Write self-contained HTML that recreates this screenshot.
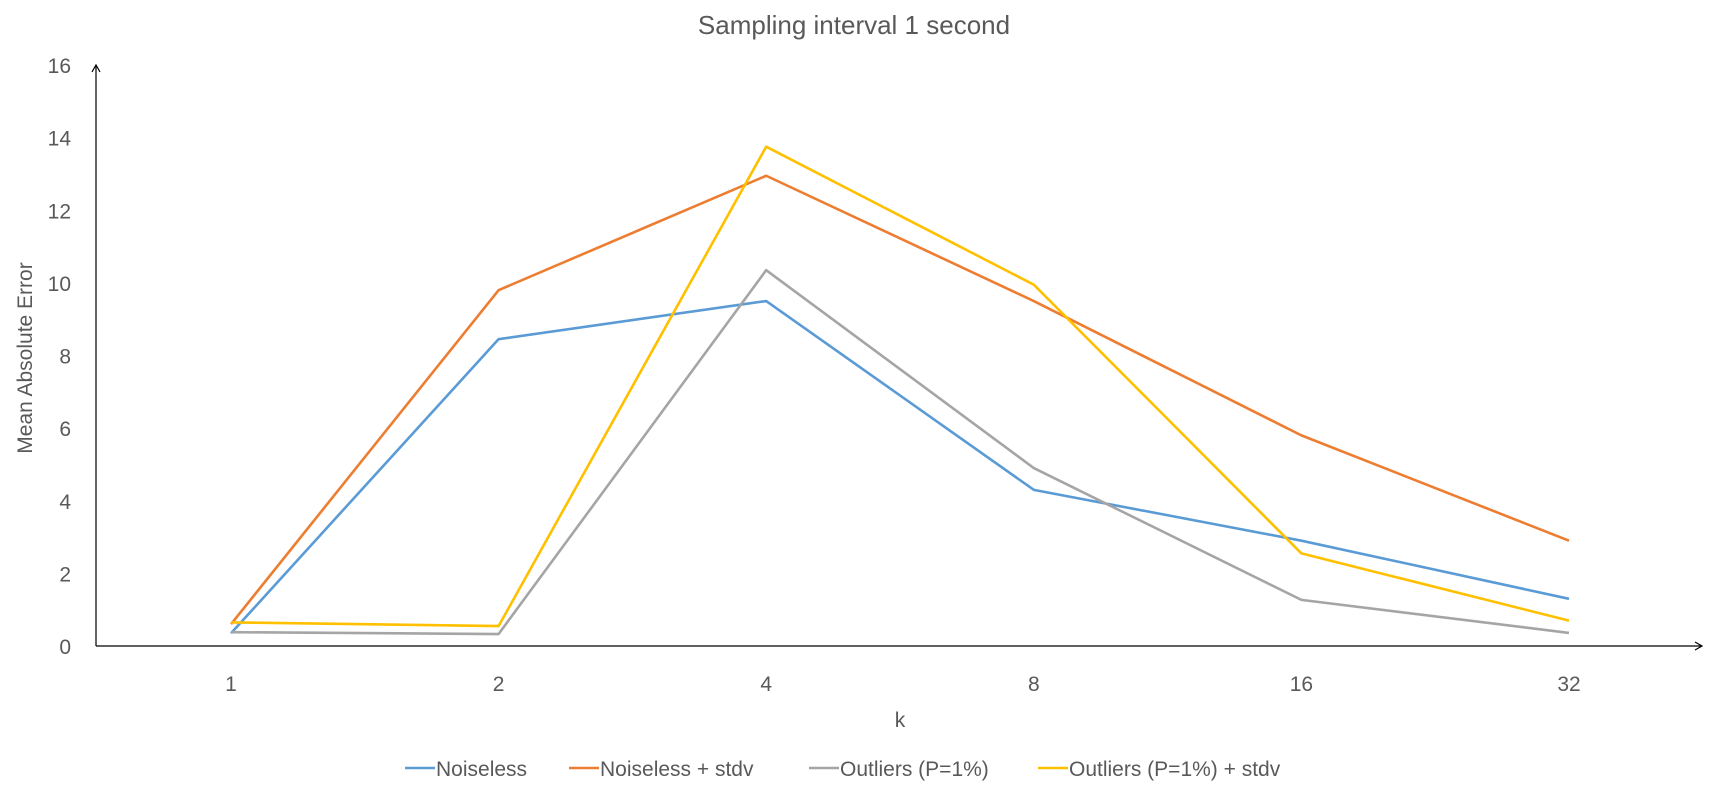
<!DOCTYPE html>
<html><head><meta charset="utf-8"><style>
body{margin:0;background:#fff;}
svg text{font-family:"Liberation Sans",sans-serif;fill:#595959;}
</style></head><body>
<svg id="chart" width="1709" height="786" viewBox="0 0 1709 786">
<text x="854" y="34" font-size="26" text-anchor="middle">Sampling interval 1 second</text>
<text transform="translate(32,358) rotate(-90)" font-size="21" text-anchor="middle">Mean Absolute Error</text>
<text x="900" y="727" font-size="21" text-anchor="middle">k</text>
<g id="axes"></g><g id="series"></g><g id="legend"></g>
</svg>
<script>
const categories=["1","2","4","8","16","32"];
const yTicks=[0,2,4,6,8,10,12,14,16];
const noiseless=[0.35,8.45,9.5,4.3,2.9,1.3];
const noiselessStdv=[0.6,9.8,12.95,9.5,5.8,2.9];
const outliers=[0.38,0.33,10.35,4.9,1.27,0.36];
const outliersStdv=[0.65,0.55,13.75,9.95,2.55,0.7];
const seriesNames=["Noiseless","Noiseless + stdv","Outliers (P=1%)","Outliers (P=1%) + stdv"];
const ns="http://www.w3.org/2000/svg";
const x0=96,x1=1702,y0=646,y16=65;
const xs=i=>231+i*267.6;
const ys=v=>y0-(v/16)*(y0-y16);
function mk(t,a,p){const e=document.createElementNS(ns,t);for(const k in a)e.setAttribute(k,a[k]);p.appendChild(e);return e;}
const ax=document.getElementById('axes');
let l=mk('path',{d:`M${x0} ${y0}H${x1} M${x1-7} ${y0-4}L${x1} ${y0}L${x1-7} ${y0+4}`,stroke:'#000',fill:'none','stroke-width':1.2},ax);


l=mk('path',{d:`M${x0} ${y0}V${y16} M${x0-4} ${y16+7}L${x0} ${y16}L${x0+4} ${y16+7}`,stroke:'#000',fill:'none','stroke-width':1.2},ax);


yTicks.forEach(v=>{const t=mk('text',{x:71,y:ys(v)+8,'font-size':21,'text-anchor':'end'},ax);t.textContent=v;

});
categories.forEach((c,i)=>{const t=mk('text',{x:xs(i),y:691,'font-size':21,'text-anchor':'middle'},ax);t.textContent=c;

});
const data=[noiseless,noiselessStdv,outliers,outliersStdv];
const colors=['#5b9bd5','#ed7d31','#a5a5a5','#ffc000'];
const sg=document.getElementById('series');
data.forEach((d,si)=>{const p=mk('polyline',{points:d.map((v,i)=>xs(i)+','+ys(v)).join(' '),fill:'none',stroke:colors[si],'stroke-width':2.6,'stroke-linejoin':'round'},sg);

});
const lg=document.getElementById('legend');
const lx=[405,569,809,1038];
seriesNames.forEach((n,i)=>{const g=mk('g',{},lg);


mk('line',{x1:lx[i],x2:lx[i]+30,y1:768,y2:768,stroke:colors[i],'stroke-width':2.6},g);
const t=mk('text',{x:lx[i]+31,y:776,'font-size':21},g);t.textContent=n;});
</script>
</body></html>
